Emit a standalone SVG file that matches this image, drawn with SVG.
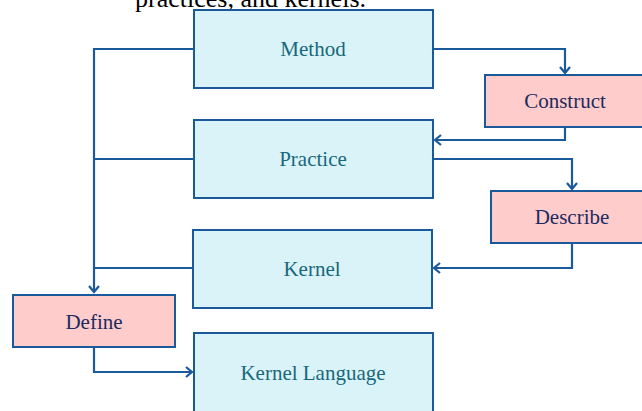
<svg xmlns="http://www.w3.org/2000/svg" width="642" height="411" viewBox="0 0 642 411">
<style>
.box{fill:#daf3f8;stroke:#1a5a9a;stroke-width:2}
.act{fill:#ffcccc;stroke:#1a5a9a;stroke-width:2}
.t1{font-family:"Liberation Serif",serif;font-size:21px;fill:#17687c;text-anchor:middle;dominant-baseline:central}
.t2{font-family:"Liberation Serif",serif;font-size:21px;fill:#1c2a5e;text-anchor:middle;dominant-baseline:central}
.c{fill:none;stroke:#1a5a9a;stroke-width:2.2}
</style>
<defs>
<marker id="ah" markerWidth="12" markerHeight="12" refX="10" refY="6" orient="auto" markerUnits="userSpaceOnUse">
<path d="M4,1 L10,6 L4,11" fill="none" stroke="#1a5a9a" stroke-width="2.2"/>
</marker>
</defs>
<rect width="642" height="411" fill="#ffffff"/>
<text x="135" y="7" font-family="Liberation Serif,serif" font-size="26" fill="#000">practices, and kernels.</text>
<g id="connectors">
<path class="c" d="M193,49 H94 V292" marker-end="url(#ah)"/>
<path class="c" d="M193,159 H94"/>
<path class="c" d="M192,268 H94"/>
<path class="c" d="M433,49 H565 V73" marker-end="url(#ah)"/>
<path class="c" d="M565,127 V140 H435" marker-end="url(#ah)"/>
<path class="c" d="M433,159 H572 V189" marker-end="url(#ah)"/>
<path class="c" d="M572,243 V268 H434" marker-end="url(#ah)"/>
<path class="c" d="M94,347 V372 H192" marker-end="url(#ah)"/>
</g>
<g id="method"><rect class="box" x="194" y="10" width="239" height="78"/><text class="t1" x="313" y="49">Method</text></g>
<g id="construct"><rect class="act" x="485" y="75" width="162" height="52"/><text class="t2" x="565" y="101">Construct</text></g>
<g id="practice"><rect class="box" x="194" y="120" width="239" height="78"/><text class="t1" x="313" y="159">Practice</text></g>
<g id="describe"><rect class="act" x="491" y="191" width="162" height="52"/><text class="t2" x="572" y="217">Describe</text></g>
<g id="kernel"><rect class="box" x="193" y="230" width="239" height="78"/><text class="t1" x="312" y="269">Kernel</text></g>
<g id="define"><rect class="act" x="13" y="295" width="162" height="52"/><text class="t2" x="94" y="322">Define</text></g>
<g id="kernel-language"><rect class="box" x="194" y="333" width="239" height="80"/><text class="t1" x="313" y="373">Kernel Language</text></g>
</svg>
